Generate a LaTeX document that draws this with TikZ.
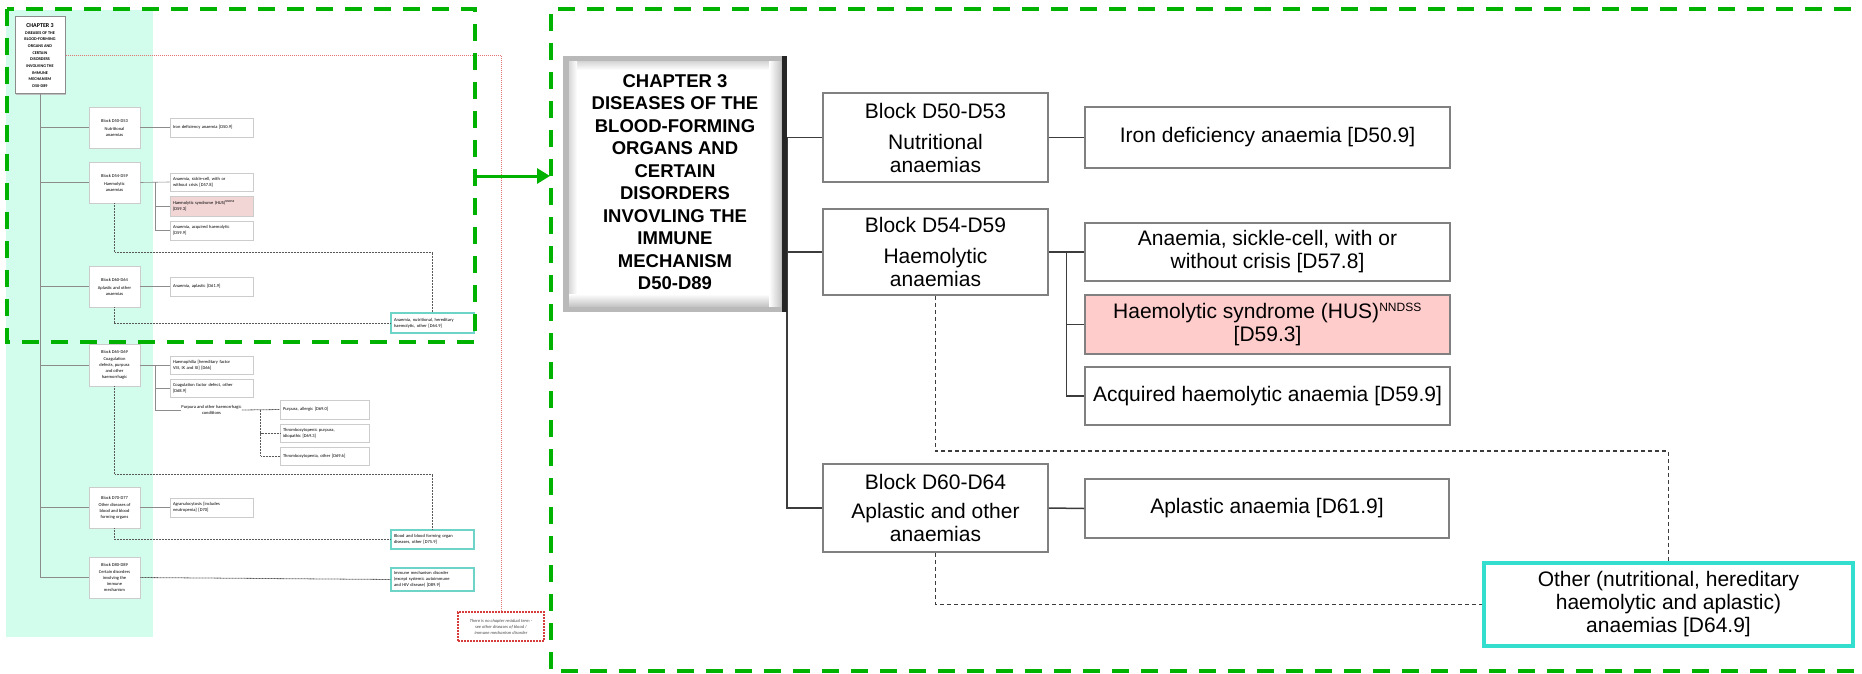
\documentclass[tikz,border=0pt]{standalone}
\usepackage{fontspec}
\setmainfont{Liberation Sans}
\newfontfamily\thumbfont{Carlito}
\usetikzlibrary{arrows.meta,calc}
\definecolor{frgreen}{RGB}{0,178,0}
\definecolor{mint}{RGB}{210,252,236}
\definecolor{boxgray}{RGB}{128,128,128}
\definecolor{linegray}{RGB}{60,60,60}
\definecolor{pinkfill}{RGB}{255,204,204}
\definecolor{tpink}{RGB}{242,214,214}
\definecolor{turq}{RGB}{51,222,206}
\definecolor{tturq}{RGB}{110,212,200}
\definecolor{redline}{RGB}{215,60,60}
\begin{document}
\begin{tikzpicture}[x=1pt,y=-1pt,
  box/.style={draw=boxgray, line width=1.8pt, fill=white, inner sep=0pt, align=center,
    font=\fontsize{21}{23}\selectfont, minimum width=225pt},
  leaf/.style={box, minimum width=365pt},
  conn/.style={draw=linegray, line width=1.5pt},
  dsh/.style={draw=linegray, line width=1.2pt, dash pattern=on 4pt off 3pt},
  tbox/.style={draw=black!20, line width=0.8pt, fill=white, inner sep=0pt, align=center,
    font=\thumbfont\fontsize{4.5}{6}\selectfont},
  tblk/.style={tbox, minimum width=51pt, minimum height=41pt},
  tleaf/.style={tbox, align=left, text width=77pt, inner xsep=3pt, minimum height=19pt},
  tleafw/.style={tleaf, text width=83pt},
  tcyan/.style={tleaf, draw=tturq, line width=1.2pt},
  tconn/.style={draw=black!45, line width=0.6pt},
  tdot/.style={draw=black!65, line width=0.8pt, dash pattern=on 0.9pt off 0.6pt},
  frame/.style={draw=frgreen, line width=4pt, dash pattern=on 17pt off 12pt},
]
\useasboundingbox (0,0) rectangle (1862,674);
\clip (0,0) rectangle (1862,674);
\fill[white] (0,0) rectangle (1862,674);

% ---------------- thumbnail ----------------
\fill[mint] (6,10) rectangle (153,637);

% thumbnail chapter box
\fill[black!25] (16,18) rectangle (66,95);
\node[draw=black!45, line width=1pt, fill=white, inner sep=0pt, minimum width=50pt, minimum height=77pt,
  align=center, font=\thumbfont\bfseries\fontsize{4.2}{6.7}\selectfont] (tchap) at (40,55.5)
  {{\fontsize{6}{7}\selectfont CHAPTER 3}\\DISEASES OF THE\\BLOOD-FORMING\\ORGANS AND\\CERTAIN\\DISORDERS\\INVOLVING THE\\IMMUNE\\MECHANISM\\D50-D89};

\node[tblk] (tb1) at (114.5,127.5) {Block D50-D53\\[2pt]Nutritional\\anaemias};
\node[tblk] (tb2) at (114.5,182.5) {Block D54-D59\\[2pt]Haemolytic\\anaemias};
\node[tblk] (tb3) at (114.5,286.5) {Block D60-D64\\[2pt]Aplastic and other\\anaemias};
\node[tblk, minimum height=42pt] (tb4) at (114.5,365) {Block D65-D69\\[1pt]Coagulation\\defects, purpura\\and other\\haemorrhagic};
\node[tblk] (tb5) at (114.5,507.5) {Block D70-D77\\[1pt]Other diseases of\\blood and blood\\forming organs};
\node[tblk] (tb6) at (114.5,577.5) {Block D80-D89\\[1pt]Certain disorders\\involving the\\immune\\mechanism};

\node[tleaf] (tl1) at (211.5,127.5) {Iron deficiency anaemia [D50.9]};
\node[tleaf, minimum height=18pt] (tl2) at (211.5,182) {Anaemia, sickle-cell, with or\\without crisis [D57.8]};
\node[tleaf, fill=tpink, minimum height=20pt] (tl3) at (211.5,206) {Haemolytic syndrome (HUS)\textsuperscript{NNDSS}\\\relax[D59.3]};
\node[tleaf] (tl4) at (211.5,230.5) {Anaemia, acquired haemolytic\\\relax[D59.9]};
\node[tleaf] (tl5) at (211.5,286.5) {Anaemia, aplastic [D61.9]};
\node[tcyan, minimum height=20pt] (tl6) at (432.5,323) {Anaemia, nutritional, hereditary\\haemolytic, other [D64.9]};
\node[tleaf, minimum height=18pt] (tl7) at (211.5,365) {Haemophilia [hereditary factor\\VIII, IX and XI] [D66]};
\node[tleaf, minimum height=18pt] (tl8) at (211.5,388) {Coagulation factor defect, other\\\relax[D68.9]};
\node[tbox, draw=none, fill=none] (tl9) at (211.5,410) {Purpura and other haemorrhagic\\conditions};
\node[tleafw] (tl10) at (324.5,409.5) {Purpura, allergic [D69.0]};
\node[tleafw, minimum height=18pt] (tl11) at (324.5,433) {Thrombocytopenic purpura,\\idiopathic [D69.3]};
\node[tleafw, minimum height=18pt] (tl12) at (324.5,456) {Thrombocytopenia, other [D69.6]};
\node[tcyan] (tl13) at (432.5,539.5) {Blood and blood forming organ\\diseases, other [D75.9]};
\node[tleaf] (tl14) at (211.5,507.5) {Agranulocytosis [includes\\neutropenia] [D70]};
\node[tcyan, minimum height=23pt] (tl15) at (432.5,579.5) {Immune mechanism disorder\\(except systemic autoimmune\\and HIV disease) [D89.9]};
\node[draw=redline, line width=1.1pt, dash pattern=on 2pt off 1pt, fill=white, inner sep=0pt,
  minimum width=86pt, minimum height=29pt, align=center, text=black!70,
  font=\thumbfont\itshape\fontsize{4.5}{6}\selectfont] (tred) at (501,626.5)
  {There is no chapter residual term -\\see other diseases of blood /\\immune mechanism disorder};

% thumbnail connectors
\draw[tconn] (tchap.south) |- (tb6.west);
\foreach \b in {tb1,tb2,tb3,tb4,tb5} \draw[tconn] (tchap.south |- \b.west) -- (\b.west);
\draw[tconn] (tb1.east) -- (tl1.west);
\draw[tconn] (tb2.east) -- (tl2.west);
\coordinate (tj2) at ($(tb2.east)!0.5!(tl2.west)$);
\draw[tconn] (tj2) |- (tl3.west);
\draw[tconn] (tj2) |- (tl4.west);
\draw[tconn] (tb3.east) -- (tl5.west);
\draw[tconn] (tb4.east) -- (tl7.west);
\coordinate (tj4) at ($(tb4.east)!0.5!(tl7.west)$);
\draw[tconn] (tj4) |- (tl8.west);
\draw[tconn] (tj4) |- (tl9.west);
\coordinate (tj9) at ($(tl9.east)!0.5!(tl10.west)$);
\draw[tdot] (tl9.east) -- (tl10.west);
\draw[tdot] (tj9) |- (tl11.west);
\draw[tdot] (tj9) |- (tl12.west);
\draw[tconn] (tb5.east) -- (tl14.west);
\draw[tdot] (tb2.south) |- ($(tl6.north)+(0,-60)$) -- (tl6.north);
\draw[tdot] (tb3.south) |- (tl6.west);
\draw[tdot] (tb4.south) |- ($(tl13.north)+(0,-55)$) -- (tl13.north);
\draw[tdot] (tb5.south) |- (tl13.west);
\draw[tdot] (tb6.east) -- (tl15.west);
\draw[draw=redline!70, line width=0.6pt, dash pattern=on 1pt off 1pt] (tchap.east) -| (tred.north);

% frames and arrow
\draw[frame] (7,9) rectangle (475,342);
\draw[frame] (1880,9) -- (551,9) -- (551,671) -- (1880,671);
\coordinate (lfr) at (477,176);
\coordinate (rfr) at (550,176);
\draw[frgreen, line width=3pt, -{Triangle[length=13pt,width=15pt]}] (lfr) -- (rfr);

% ---------------- main diagram ----------------
\node[box, minimum height=89pt] (b1) at (935.5,137.5) {Block D50-D53\\[8pt]Nutritional\\anaemias};
\node[box, minimum height=86pt] (b2) at (935.5,252) {Block D54-D59\\[8pt]Haemolytic\\anaemias};
\node[box, minimum height=88pt] (b3) at (935.5,508) {Block D60-D64\\[6pt]Aplastic and other\\anaemias};
\node[leaf, minimum height=61pt] (l1) at (1267.5,137.5) {Iron deficiency anaemia [D50.9]};
\node[leaf, minimum height=58pt] (l2) at (1267.5,252) {Anaemia, sickle-cell, with or\\without crisis [D57.8]};
\node[leaf, minimum height=59pt, fill=pinkfill] (l3) at (1267.5,324.5) {Haemolytic syndrome (HUS)\textsuperscript{\fontsize{12}{12}\selectfont NNDSS}\\\relax[D59.3]};
\node[leaf, minimum height=58pt] (l4) at (1267.5,396) {Acquired haemolytic anaemia [D59.9]};
\node[leaf, minimum width=364pt, minimum height=59pt] (l5) at (1267,508.5) {Aplastic anaemia [D61.9]};
\node[box, draw=turq, line width=4pt, minimum width=369pt, minimum height=83pt] (l6) at (1668.5,604.5)
  {Other (nutritional, hereditary\\haemolytic and aplastic)\\anaemias [D64.9]};

% connectors (drawn under the chapter box)
\draw[conn] (787,137.5) |- (b3.west);
\draw[conn] (787,137.5) -- (b1.west);
\draw[conn] (787,252) -- (b2.west);
\draw[conn] (b1.east) -- (l1.west);
\draw[conn] (b2.east) -- (l2.west);
\coordinate (j2) at ($(b2.east)!0.5!(l2.west)$);
\draw[conn] (j2) |- (l3.west);
\draw[conn] (j2) |- (l4.west);
\draw[conn] (b3.east) -- (l5.west);
\draw[dsh] (b2.south) |- ($(l6.north)+(0,-110)$) -- (l6.north);
\draw[dsh] (b3.south) |- (l6.west);

% chapter box with bevel
\fill[gray!55] (563,56) rectangle (787,312);
\fill[white] (569,62) rectangle (781,306);
\shade[top color=gray!30, bottom color=white] (569,62) rectangle (781,70);
\shade[left color=gray!30, right color=white] (569,62) rectangle (577,306);
\shade[top color=white, bottom color=gray!45] (569,294) rectangle (781,306);
\shade[left color=white, right color=gray!45] (769,62) rectangle (781,306);
\fill[black!85] (782,56) rectangle (787,312);
\node[inner sep=0pt, minimum width=224pt, minimum height=256pt, align=center,
  font=\bfseries\fontsize{18.5}{22.5}\selectfont] (chap) at (675,182)
  {CHAPTER 3\\DISEASES OF THE\\BLOOD-FORMING\\ORGANS AND\\CERTAIN\\DISORDERS\\INVOVLING THE\\IMMUNE\\MECHANISM\\D50-D89};
\end{tikzpicture}
\end{document}
